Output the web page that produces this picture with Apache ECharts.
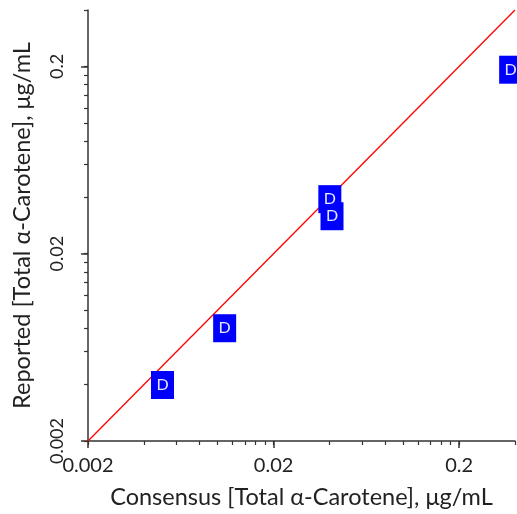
<!DOCTYPE html>
<html>
<head>
<meta charset="utf-8">
<title>Reported vs Consensus</title>
<script src="https://cdn.jsdelivr.net/npm/echarts@6/dist/echarts.min.js"></script>
<style>
  html, body { margin: 0; padding: 0; background: #fff; }
  #carotene_chart { width: 517px; height: 514px; }
</style>
</head>
<body>
<div id="carotene_chart"></div>
<script>
// Data
// ------------------------------

// Consensus (x) and reported (y) values, ug/mL
var consensusValues = [0.00504, 0.0109, 0.0402, 0.0413, 0.379];
var reportedValues = [0.00398, 0.0080, 0.0391, 0.0317, 0.192];
var pointLabels = ["D", "D", "D", "D", "D"];

// Axis range and ticks
var axisRange = [0.002, 0.4];
var majorTicks = [0.002, 0.02, 0.2];
var minorTicks = [
  0.004, 0.006, 0.008, 0.01, 0.012, 0.014, 0.016, 0.018,
  0.04, 0.06, 0.08, 0.1, 0.12, 0.14, 0.16, 0.18, 0.4
];

// Setup module
// ------------------------------

var caroteneScatter = (function () {
  var caroteneScatterExample = function () {
    if (typeof echarts == "undefined") {
      console.warn("Warning - echarts.min.js is not loaded.");
      return;
    }

    var chart_element = document.getElementById("carotene_chart");
    if (!chart_element) return;

    var chart = echarts.init(chart_element);

    var points = consensusValues.map(function (x, i) {
      return { value: [x, reportedValues[i]], name: pointLabels[i] };
    });

    var font = "Lato, 'Open Sans', sans-serif";

    // main axis: line, minor ticks, labels, name
    var mainAxis = function (isY) {
      return {
        type: "log",
        logBase: 10,
        position: isY ? "left" : "bottom",
        min: axisRange[0],
        max: axisRange[1],
        name: isY
          ? "Reported [Total \u03b1-Carotene], \u03bcg/mL"
          : "Consensus [Total \u03b1-Carotene], \u03bcg/mL",
        nameLocation: "middle",
        nameGap: isY ? 54 : 44,
        nameTextStyle: { fontFamily: font, fontSize: 23.5, color: "#222" },
        axisLine: { onZero: false, lineStyle: { color: "#333", width: 1.5 } },
        axisTick: {
          show: true,
          length: 4,
          customValues: minorTicks.concat(majorTicks),
          lineStyle: { color: "#333", width: 1.2 },
        },
        axisLabel: {
          customValues: majorTicks,
          rotate: isY ? 90 : 0,
          margin: isY ? 22 : 15,
          fontFamily: font,
          fontSize: isY ? 18 : 20,
          color: "#222",
          formatter: function (v) {
            return String(Number(v.toPrecision(3)));
          },
        },
        splitLine: { show: false },
      };
    };

    // overlay axis: longer major ticks only
    var majorAxis = function (isY) {
      return {
        type: "log",
        logBase: 10,
        position: isY ? "left" : "bottom",
        offset: 0,
        min: axisRange[0],
        max: axisRange[1],
        axisLine: { show: false, onZero: false },
        axisTick: {
          show: true,
          length: 7,
          customValues: majorTicks,
          lineStyle: { color: "#333", width: 1.5 },
        },
        axisLabel: { show: false },
        splitLine: { show: false },
      };
    };

    chart.setOption({
      animation: false,
      grid: { left: 88, right: 2, top: 10, bottom: 73, containLabel: false },
      xAxis: [mainAxis(false), majorAxis(false)],
      yAxis: [mainAxis(true), majorAxis(true)],
      series: [
        {
          name: "Equality",
          type: "line",
          data: [
            [axisRange[0], axisRange[0]],
            [axisRange[1], axisRange[1]],
          ],
          symbol: "none",
          lineStyle: { color: "#ff0000", width: 1.3 },
          z: 2,
        },
        {
          name: "Labs",
          type: "scatter",
          data: points,
          symbol: "rect",
          symbolSize: [23, 28],
          clip: false,
          itemStyle: { color: "#0000ff", opacity: 1 },
          label: {
            show: true,
            position: "inside",
            formatter: "{b}",
            fontFamily: font,
            fontSize: 16,
            color: "#e8e8ff",
          },
          z: 3,
        },
      ],
    });

    window.addEventListener("resize", function () {
      chart.resize();
    });
  };

  return {
    init: function () {
      caroteneScatterExample();
    },
  };
})();

document.addEventListener("DOMContentLoaded", function () {
  caroteneScatter.init();
});
</script>
</body>
</html>
